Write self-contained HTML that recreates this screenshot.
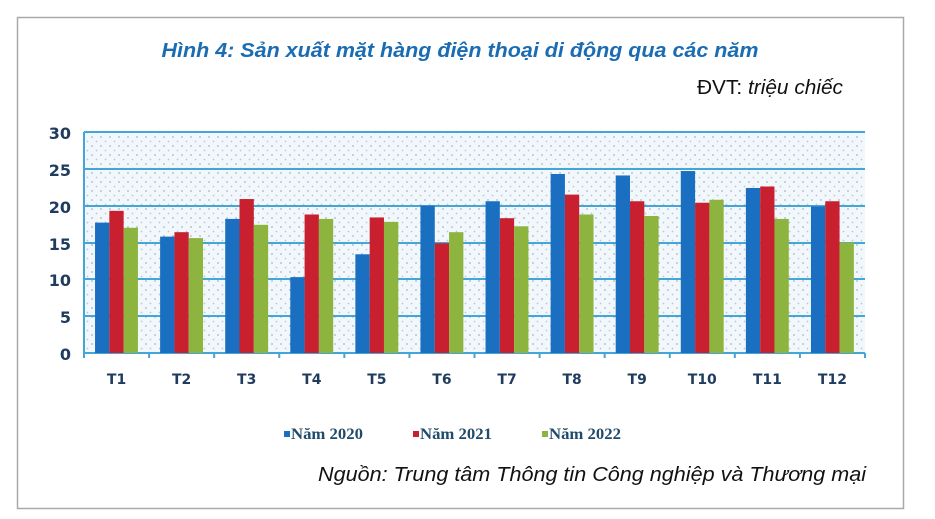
<!DOCTYPE html>
<html><head><meta charset="utf-8"><style>
html,body{margin:0;padding:0;background:#fff;}
body{width:935px;height:519px;overflow:hidden;position:relative;}
</style></head><body>
<svg width="935" height="519" xmlns="http://www.w3.org/2000/svg" style="position:absolute;left:0;top:0">
<defs>
<pattern id="dots" width="9" height="9" patternUnits="userSpaceOnUse">
<rect width="9" height="9" fill="#f2f7fb"/>
<circle cx="2" cy="2" r="0.9" fill="#9fb7cf"/>
<circle cx="6.5" cy="6.5" r="0.9" fill="#b9c9d9"/>
</pattern>
</defs>
<rect x="17.5" y="17.5" width="886" height="491" fill="#fff" stroke="#a9a9a9" stroke-width="1.5"/>
<text x="460" y="57" text-anchor="middle" font-family="Liberation Sans, sans-serif" font-size="20" font-weight="bold" font-style="italic" fill="#1b6db3" textLength="597" lengthAdjust="spacingAndGlyphs">Hình 4: Sản xuất mặt hàng điện thoại di động qua các năm</text>
<text x="843" y="94" text-anchor="end" font-family="Liberation Sans, sans-serif" font-size="20" fill="#111" textLength="146" lengthAdjust="spacingAndGlyphs"><tspan>ĐVT: </tspan><tspan font-style="italic">triệu chiếc</tspan></text>
<rect x="84" y="132" width="781" height="221" fill="url(#dots)"/>
<g stroke="#44a6d6" stroke-width="2">
<line x1="84" y1="132" x2="865" y2="132"/>
<line x1="84" y1="169" x2="865" y2="169"/>
<line x1="84" y1="206" x2="865" y2="206"/>
<line x1="84" y1="243" x2="865" y2="243"/>
<line x1="84" y1="279" x2="865" y2="279"/>
<line x1="84" y1="316" x2="865" y2="316"/>
<line x1="84" y1="353" x2="865" y2="353"/>
<line x1="84" y1="132" x2="84" y2="358"/>
</g>
<g id="bars"></g>
<g font-family="DejaVu Sans, sans-serif" font-size="16" font-weight="bold" fill="#1f3b5e" text-anchor="end">
<text x="71" y="139">30</text><text x="71" y="176">25</text><text x="71" y="213">20</text>
<text x="71" y="250">15</text><text x="71" y="286">10</text><text x="71" y="323">5</text><text x="71" y="360">0</text>
</g>
<g id="cats" font-family="DejaVu Sans, sans-serif" font-size="14" font-weight="bold" fill="#1f3b5e" text-anchor="middle"></g>
<g font-family="Liberation Serif, serif" font-size="16" font-weight="bold" fill="#1f4a6a">
<rect x="284" y="431" width="6" height="6" fill="#1a6fc0"/><text x="291" y="439" textLength="72" lengthAdjust="spacingAndGlyphs">Năm 2020</text>
<rect x="413" y="431" width="6" height="6" fill="#c8202f"/><text x="420" y="439" textLength="72" lengthAdjust="spacingAndGlyphs">Năm 2021</text>
<rect x="542" y="431" width="6" height="6" fill="#8db43e"/><text x="549" y="439" textLength="72" lengthAdjust="spacingAndGlyphs">Năm 2022</text>
</g>
<text x="866" y="481" text-anchor="end" font-family="Liberation Sans, sans-serif" font-size="20" font-style="italic" fill="#111" textLength="548" lengthAdjust="spacingAndGlyphs">Nguồn: Trung tâm Thông tin Công nghiệp và Thương mại</text>
</svg>
<script>
var d=[[17.7,19.3,17.0],[15.8,16.4,15.6],[18.2,20.9,17.4],[10.3,18.8,18.2],[13.4,18.4,17.8],[20.0,14.9,16.4],[20.6,18.3,17.2],[24.3,21.5,18.8],[24.1,20.6,18.6],[24.7,20.4,20.8],[22.4,22.6,18.2],[19.9,20.6,15.0]];
var c=["#1a6fc0","#c8202f","#8db43e"],ns="http://www.w3.org/2000/svg";
var g=document.getElementById("bars"),cg=document.getElementById("cats"),s=781/12;
for(var i=0;i<12;i++){var cx=84+s*(i+0.5);
for(var j=0;j<3;j++){var r=document.createElementNS(ns,"rect");var h=d[i][j]*221/30;
r.setAttribute("x",cx-21.5+j*14.3);r.setAttribute("width",14.3);r.setAttribute("y",353-h);r.setAttribute("height",h);r.setAttribute("fill",c[j]);g.appendChild(r);}
var t=document.createElementNS(ns,"text");t.setAttribute("x",cx);t.setAttribute("y",384);t.textContent="T"+(i+1);cg.appendChild(t);
var l=document.createElementNS(ns,"line");l.setAttribute("x1",84+s*(i+1));l.setAttribute("x2",84+s*(i+1));l.setAttribute("y1",353);l.setAttribute("y2",358);l.setAttribute("stroke","#44a6d6");l.setAttribute("stroke-width","2");g.appendChild(l);}
</script>
</body></html>
